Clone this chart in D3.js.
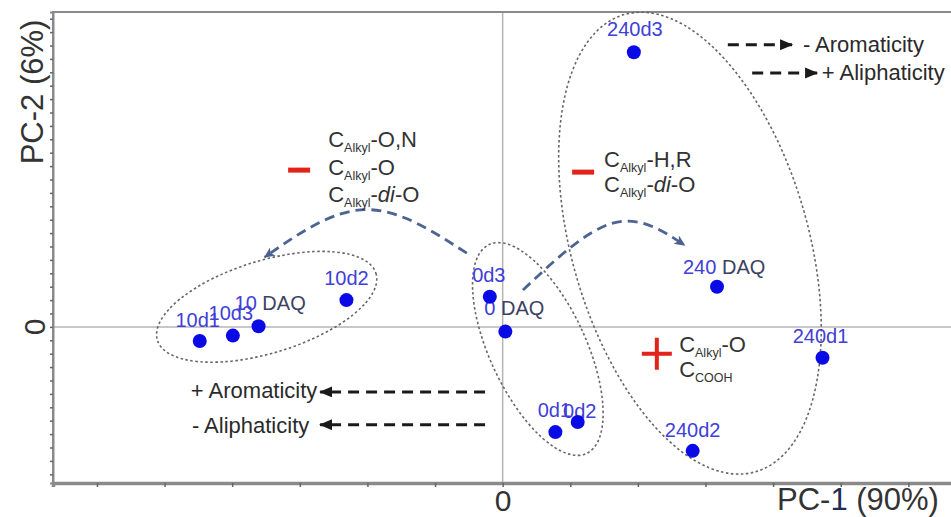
<!DOCTYPE html>
<html>
<head>
<meta charset="utf-8">
<script src="https://cdn.jsdelivr.net/npm/d3@7"></script>
<style>
  body { margin: 0; background: #fff; }
  svg { display: block; font-family: "Liberation Sans", Arial, sans-serif; }
</style>
</head>
<body>
<svg id="chart" width="951" height="517"></svg>
<script>
// PCA scores (PC-1, PC-2)
const sampleNames = ['240d3', '240 DAQ', '240d1', '240d2', '0d1', '0d2', '0 DAQ', '0d3', '10d2', '10 DAQ', '10d3', '10d1'];
const pc1Scores = [1.94, 3.17, 4.73, 2.81, 0.78, 1.11, 0.04, -0.19, -2.31, -3.61, -3.99, -4.48];
const pc2Scores = [4.10, 0.60, -0.46, -1.85, -1.57, -1.42, -0.07, 0.45, 0.40, 0.01, -0.13, -0.21];

// group ellipses (10 d, 0 d, 240 d) in score units
const groupNames = ['10', '0', '240'];
const ellipseCx = [-3.49, 0.52, 2.77];
const ellipseCy = [0.30, -0.33, 1.25];
const ellipseRx = [1.69, 0.71, 1.75];
const ellipseRy = [0.69, 1.72, 3.55];
const ellipseTilt = [-17, -25, -16];

// blue shift arrows between groups
const shiftToTen = [[-0.53, 1.10], [-2.03, 1.75], [-3.52, 1.04]];
const shiftToTwoForty = [[0.30, 0.55], [1.63, 1.55], [2.69, 1.22]];

const xTicks = d3.range(-6, 7);
const yTicks = d3.range(-11, 24).map(i => i * 0.2);

const xTitle = ['PC-', '1', ' (90%)'];
const yTitle = 'PC-2 (6%)';

// label placement next to each point (px)
const labelPos = {
  '240d3':   { anchor: 'middle', dx: 1, dy: -16 },
  '240 DAQ': { anchor: 'start', dx: -34, dy: -13 },
  '240d1':   { anchor: 'middle', dx: -2, dy: -15 },
  '240d2':   { anchor: 'middle', dx: 0, dy: -14 },
  '0d1':     { anchor: 'middle', dx: -1, dy: -15 },
  '0d2':     { anchor: 'middle', dx: 2, dy: -4 },
  '0 DAQ':   { anchor: 'start', dx: -21, dy: -17 },
  '0d3':     { anchor: 'middle', dx: -1, dy: -15 },
  '10d2':    { anchor: 'middle', dx: 0, dy: -15 },
  '10 DAQ':  { anchor: 'start', dx: -24, dy: -16 },
  '10d3':    { anchor: 'middle', dx: -2, dy: -16 },
  '10d1':    { anchor: 'middle', dx: -2, dy: -14 }
};

const svg = d3.select('#chart');
const plotLeft = 53, plotTop = 12, plotRight = 953, plotBottom = 483;

const x = d3.scaleLinear().domain([-6.65, 6.66]).range([plotLeft, plotRight]);
const y = d3.scaleLinear().domain([-2.33, 4.70]).range([plotBottom, plotTop]);

// zero lines
svg.append('line')
  .attr('x1', x(0)).attr('x2', x(0))
  .attr('y1', plotTop).attr('y2', plotBottom)
  .attr('stroke', '#b5b5b5').attr('stroke-width', 1.5);
svg.append('line')
  .attr('x1', plotLeft).attr('x2', plotRight)
  .attr('y1', y(0)).attr('y2', y(0))
  .attr('stroke', '#b5b5b5').attr('stroke-width', 1.5);

// frame
svg.append('rect')
  .attr('x', plotLeft).attr('y', plotTop)
  .attr('width', plotRight - plotLeft).attr('height', plotBottom - plotTop)
  .attr('fill', 'none').attr('stroke', '#8a8a8a').attr('stroke-width', 2);

const xAxis = svg.append('g')
  .attr('transform', 'translate(0,' + plotBottom + ')')
  .call(d3.axisBottom(x).tickValues(xTicks).tickSize(4).tickPadding(3)
    .tickFormat(d => d === 0 ? '0' : ''));
xAxis.select('.domain').attr('stroke', '#8a8a8a').attr('stroke-width', 3.5);
xAxis.selectAll('.tick line').attr('stroke', '#666').attr('stroke-width', 1.5);
xAxis.selectAll('.tick text')
  .attr('fill', '#333').style('font-size', '30px')
  .style('font-family', '"Liberation Sans", Arial, sans-serif');

const yAxis = svg.append('g')
  .attr('transform', 'translate(' + plotLeft + ',0)')
  .call(d3.axisLeft(y).tickValues(yTicks).tickSize(3).tickFormat(''));
yAxis.select('.domain').attr('stroke', '#8a8a8a').attr('stroke-width', 2);
yAxis.selectAll('.tick line').attr('stroke', '#666').attr('stroke-width', 1.5);

svg.append('text')
  .attr('transform', 'translate(45,' + y(0) + ') rotate(-90)')
  .attr('text-anchor', 'middle')
  .attr('fill', '#333').style('font-size', '30px')
  .text('0');

// axis titles
svg.append('text')
  .attr('transform', 'translate(43,92) rotate(-90)')
  .attr('text-anchor', 'middle')
  .attr('fill', '#333').style('font-size', '31px')
  .text(yTitle);

const xt = svg.append('text')
  .attr('x', 777).attr('y', 510)
  .attr('fill', '#333').style('font-size', '31px');
xt.append('tspan').text(xTitle[0]);
xt.append('tspan').attr('fill', '#1f2d55').text(xTitle[1]);
xt.append('tspan').text(xTitle[2]);

// markers
const defs = svg.append('defs');
defs.append('marker')
  .attr('id', 'blackHead')
  .attr('markerUnits', 'userSpaceOnUse')
  .attr('markerWidth', 14).attr('markerHeight', 12)
  .attr('refX', 12).attr('refY', 5.5)
  .attr('orient', 'auto')
  .append('path').attr('d', 'M0,0 L13,5.5 L0,11 Z').attr('fill', '#1a1a1a');
defs.append('marker')
  .attr('id', 'blueHead')
  .attr('markerUnits', 'userSpaceOnUse')
  .attr('markerWidth', 14).attr('markerHeight', 12)
  .attr('refX', 10).attr('refY', 5)
  .attr('orient', 'auto')
  .append('path').attr('d', 'M0,0 L11,5 L0,10 L3,5 Z').attr('fill', '#4a6090');

// group ellipses
svg.selectAll('ellipse.group')
  .data(groupNames)
  .enter()
  .append('ellipse')
  .attr('class', 'group')
  .attr('cx', 0).attr('cy', 0)
  .attr('rx', (d, i) => x(ellipseRx[i]) - x(0))
  .attr('ry', (d, i) => y(0) - y(ellipseRy[i]))
  .attr('transform', (d, i) => 'translate(' + x(ellipseCx[i]) + ',' + y(ellipseCy[i]) + ') rotate(' + ellipseTilt[i] + ')')
  .attr('fill', 'none')
  .attr('stroke', '#666')
  .attr('stroke-width', 1.6)
  .attr('stroke-dasharray', '2.5,2.5');

// shift arrows
const curve = d3.line()
  .x(d => x(d[0]))
  .y(d => y(d[1]))
  .curve(d3.curveNatural);

svg.selectAll('path.shift')
  .data([shiftToTen, shiftToTwoForty])
  .enter()
  .append('path')
  .attr('class', 'shift')
  .attr('d', curve)
  .attr('fill', 'none')
  .attr('stroke', '#4d6493')
  .attr('stroke-width', 2.8)
  .attr('stroke-dasharray', '10,6')
  .attr('marker-end', 'url(#blueHead)');

// aromaticity / aliphaticity arrows
const trendArrows = [
  { from: [3.33, 4.21], to: [4.28, 4.21], text: '- Aromaticity', tx: 4.44, ty: 4.10, anchor: 'start' },
  { from: [3.69, 3.79], to: [4.65, 3.79], text: '+ Aliphaticity', tx: 4.72, ty: 3.68, anchor: 'start' },
  { from: [-0.26, -0.97], to: [-2.70, -0.97], text: '+ Aromaticity', tx: -2.74, ty: -1.06, anchor: 'end' },
  { from: [-0.26, -1.46], to: [-2.70, -1.46], text: '- Aliphaticity', tx: -2.86, ty: -1.58, anchor: 'end' }
];

trendArrows.forEach(a => {
  svg.append('line')
    .attr('x1', x(a.from[0])).attr('y1', y(a.from[1]))
    .attr('x2', x(a.to[0])).attr('y2', y(a.to[1]))
    .attr('stroke', '#1a1a1a')
    .attr('stroke-width', 3)
    .attr('stroke-dasharray', '11,7')
    .attr('marker-end', 'url(#blackHead)');
  svg.append('text')
    .attr('x', x(a.tx)).attr('y', y(a.ty))
    .attr('text-anchor', a.anchor)
    .attr('fill', '#2a2a2a')
    .style('font-size', '22px')
    .text(a.text);
});

// red loading markers
const red = '#e2231a';
[[-3.01, 2.34], [1.19, 2.31]].forEach(p => {
  svg.append('line')
    .attr('x1', x(p[0]) - 11).attr('x2', x(p[0]) + 11)
    .attr('y1', y(p[1])).attr('y2', y(p[1]))
    .attr('stroke', red).attr('stroke-width', 5);
});
const plusAt = [2.28, -0.40];
svg.append('path')
  .attr('d', 'M' + (x(plusAt[0]) - 15) + ',' + y(plusAt[1]) + 'h30' +
    'M' + x(plusAt[0]) + ',' + (y(plusAt[1]) - 16) + 'v32')
  .attr('stroke', red).attr('stroke-width', 4);

// loading annotations: [subscript, rest, italic part, tail]
function chem(g, px, py, lines, gap) {
  lines.forEach((ln, i) => {
    const t = g.append('text')
      .attr('x', x(px)).attr('y', y(py) + i * gap)
      .attr('fill', '#333')
      .style('font-size', '22px');
    t.append('tspan').text('C');
    t.append('tspan').attr('dy', 5).style('font-size', '12.5px').text(ln[0]);
    t.append('tspan').attr('dy', -5).text(ln[1]);
    if (ln[2]) t.append('tspan').style('font-style', 'italic').text(ln[2]);
    if (ln[3]) t.append('tspan').text(ln[3]);
  });
}
chem(svg, -2.58, 2.68, [['Alkyl', '-O,N'], ['Alkyl', '-O'], ['Alkyl', '-', 'di', '-O']], 27.5);
chem(svg, 1.50, 2.38, [['Alkyl', '-H,R'], ['Alkyl', '-', 'di', '-O']], 25);
chem(svg, 2.61, -0.38, [['Alkyl', '-O'], ['COOH', '']], 25);

// sample labels
const labels = svg.append('g');
sampleNames.forEach((name, i) => {
  const pos = labelPos[name];
  const t = labels.append('text')
    .attr('x', x(pc1Scores[i]) + pos.dx)
    .attr('y', y(pc2Scores[i]) + pos.dy)
    .attr('text-anchor', pos.anchor)
    .style('font-size', '20px');
  const parts = name.split(' ');
  t.append('tspan').attr('fill', '#4040d8').text(parts[0]);
  if (parts[1]) t.append('tspan').attr('fill', '#3c4262').text(' ' + parts[1]);
});

// sample points
svg.selectAll('circle.sample')
  .data(sampleNames)
  .enter()
  .append('circle')
  .attr('class', 'sample')
  .attr('cx', (d, i) => x(pc1Scores[i]))
  .attr('cy', (d, i) => y(pc2Scores[i]))
  .attr('r', 7)
  .attr('fill', '#0a0ae6');
</script>
</body>
</html>
